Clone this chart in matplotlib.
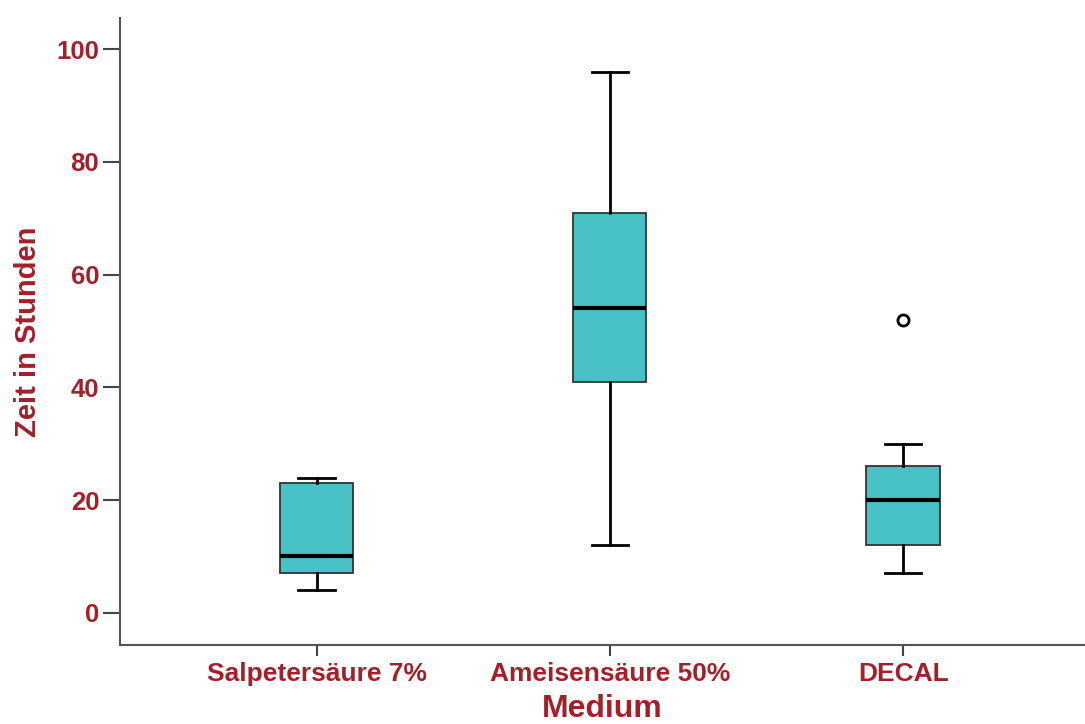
import matplotlib.pyplot as plt

# Box statistics per medium (hours)
media = ["Salpetersäure 7%", "Ameisensäure 50%", "DECAL"]
whislo = [4, 12, 7]
q1 = [7, 41, 12]
med = [10, 54, 20]
q3 = [23, 71, 26]
whishi = [24, 96, 30]
fliers = [[], [], [52]]

red = "#A3202A"
teal = "#48C2C6"

plt.rcParams["font.family"] = ["Liberation Sans", "DejaVu Sans"]
plt.rcParams["font.weight"] = "bold"

stats = []
for i, name in enumerate(media):
    stats.append(dict(label=name, whislo=whislo[i], q1=q1[i], med=med[i],
                      q3=q3[i], whishi=whishi[i], fliers=fliers[i]))

fig = plt.figure(figsize=(10.85, 7.24), dpi=100)
ax = fig.add_axes([0.1106, 0.1091, 0.8894, 0.866])

ax.bxp(stats, positions=[1, 2, 3], widths=0.25, patch_artist=True,
       boxprops=dict(facecolor=teal, edgecolor="#333333", linewidth=1.3),
       medianprops=dict(color="black", linewidth=3),
       whiskerprops=dict(color="black", linewidth=2),
       capprops=dict(color="black", linewidth=2),
       capwidths=0.125,
       flierprops=dict(marker="o", markersize=8, markerfacecolor="white",
                       markeredgecolor="black", markeredgewidth=2))

ax.set_xlim(0.33, 3.62)
ax.set_ylim(-5.7, 105.5)
ax.set_yticks([0, 20, 40, 60, 80, 100])

for s in ["top", "right"]:
    ax.spines[s].set_visible(False)
for s in ["left", "bottom"]:
    ax.spines[s].set_color("#555555")
    ax.spines[s].set_linewidth(1.5)

ax.tick_params(axis="y", length=12, width=1.5, color="#444444", pad=3,
               labelsize=18.5, labelcolor=red)
ax.tick_params(axis="x", length=8, width=1.5, color="#444444", pad=4,
               labelsize=19, labelcolor=red)

ax.set_xlabel("Medium", fontsize=23, fontweight="bold", color=red, labelpad=6)
ax.set_ylabel("Zeit in Stunden", fontsize=21, fontweight="bold", color=red, labelpad=10)

fig.savefig("out.png", dpi=100)
